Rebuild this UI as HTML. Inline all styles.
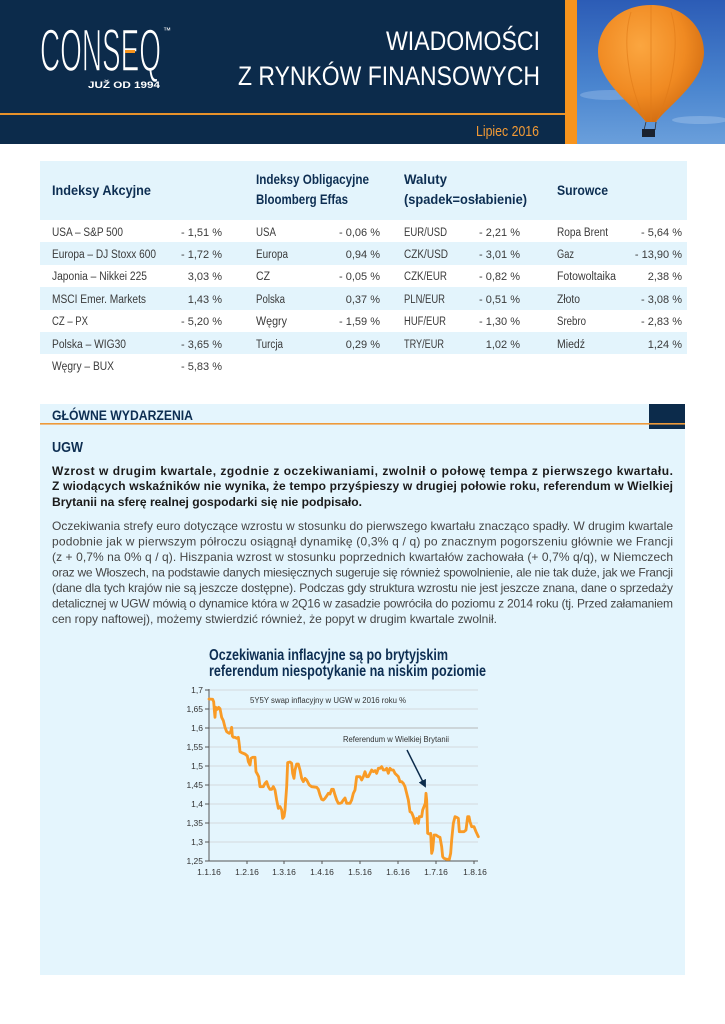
<!DOCTYPE html>
<html><head><meta charset="utf-8">
<style>
html,body{margin:0;padding:0;background:#fff;}
svg{display:block;}
text{font-family:"Liberation Sans","DejaVu Sans",sans-serif;}
</style></head>
<body>
<svg width="725" height="1024" viewBox="0 0 725 1024" xmlns="http://www.w3.org/2000/svg">
<defs>
<linearGradient id="sky" x1="0" y1="0" x2="0" y2="1">
<stop offset="0" stop-color="#2c5cb6"/><stop offset="0.6" stop-color="#4a85cf"/><stop offset="1" stop-color="#6a9fdb"/>
</linearGradient>
<radialGradient id="bal" cx="0.4" cy="0.35" r="0.7">
<stop offset="0" stop-color="#fba640"/><stop offset="0.6" stop-color="#f08a22"/><stop offset="1" stop-color="#cf6a10"/>
</radialGradient>
<marker id="ah" markerWidth="8" markerHeight="8" refX="6" refY="4" orient="auto" markerUnits="userSpaceOnUse">
<path d="M0,0 L8,4 L0,8 Z" fill="#0c2c4c"/>
</marker>
</defs>

<!-- HEADER -->
<rect x="0" y="0" width="565" height="144" fill="#0c2b4b"/>
<rect x="0" y="113" width="565" height="2" fill="#e8922a"/>
<rect x="565" y="0" width="12" height="144" fill="#f7941d"/>
<rect x="577" y="0" width="148" height="144" fill="url(#sky)"/>
<ellipse cx="610" cy="95" rx="30" ry="5" fill="#8fb6e6" opacity="0.5"/>
<ellipse cx="700" cy="120" rx="28" ry="4" fill="#9cc0ea" opacity="0.5"/>
<path d="M651,5 C681,5 704,25 704,52 C704,82 670,104 656,122 L646,122 C632,104 598,82 598,52 C598,25 621,5 651,5 Z" fill="url(#bal)"/>
<path d="M631,12 C622,40 628,85 646,122 M671,12 C680,40 674,85 656,122 M651,5 L651,122" stroke="#e07a18" stroke-width="1" fill="none" opacity="0.6"/>
<line x1="646" y1="122" x2="644" y2="130" stroke="#333" stroke-width="0.8"/>
<line x1="656" y1="122" x2="655" y2="130" stroke="#333" stroke-width="0.8"/>
<rect x="642" y="129" width="13" height="8" fill="#1a2230"/>
<rect x="0" y="144" width="725" height="1" fill="#fff"/>

<text x="40" y="71" font-size="60" fill="#fff" stroke="#0c2b4b" stroke-width="1.6" textLength="121" lengthAdjust="spacingAndGlyphs">CONSEQ</text>
<rect x="125" y="50" width="10" height="3" fill="#f7941d"/>
<text x="163" y="33" font-size="8" fill="#fff">™</text>
<text x="88" y="88" font-size="9" font-weight="bold" fill="#fff" textLength="72" lengthAdjust="spacingAndGlyphs">JUŽ OD 1994</text>

<text x="386" y="50" font-size="27" fill="#fff" textLength="154" lengthAdjust="spacingAndGlyphs">WIADOMOŚCI</text>
<text x="238" y="85" font-size="27" fill="#fff" textLength="302" lengthAdjust="spacingAndGlyphs">Z RYNKÓW FINANSOWYCH</text>
<text x="476" y="136" font-size="15" fill="#f29a35" textLength="63" lengthAdjust="spacingAndGlyphs">Lipiec 2016</text>

<!-- TABLE -->
<rect x="40" y="161" width="647" height="59" fill="#e3f4fc"/>
<rect x="40" y="242" width="647" height="23" fill="#e3f4fc"/>
<rect x="40" y="287" width="647" height="23" fill="#e3f4fc"/>
<rect x="40" y="332" width="647" height="22" fill="#e3f4fc"/>

<g font-weight="bold" fill="#0d2e52" font-size="14">
<text x="52" y="195" textLength="99" lengthAdjust="spacingAndGlyphs">Indeksy Akcyjne</text>
<text x="256" y="184" textLength="113" lengthAdjust="spacingAndGlyphs">Indeksy Obligacyjne</text>
<text x="256" y="204" textLength="92" lengthAdjust="spacingAndGlyphs">Bloomberg Effas</text>
<text x="404" y="184" textLength="43" lengthAdjust="spacingAndGlyphs">Waluty</text>
<text x="404" y="204" textLength="123" lengthAdjust="spacingAndGlyphs">(spadek=osłabienie)</text>
<text x="557" y="195" textLength="51" lengthAdjust="spacingAndGlyphs">Surowce</text>
</g>

<g fill="#3a3a3a" font-size="11.5">
<text x="52" y="236" textLength="71" lengthAdjust="spacingAndGlyphs">USA – S&amp;P 500</text>
<text x="52" y="258" textLength="104" lengthAdjust="spacingAndGlyphs">Europa – DJ Stoxx 600</text>
<text x="52" y="280" textLength="95" lengthAdjust="spacingAndGlyphs">Japonia – Nikkei 225</text>
<text x="52" y="303" textLength="94" lengthAdjust="spacingAndGlyphs">MSCI Emer. Markets</text>
<text x="52" y="325" textLength="36" lengthAdjust="spacingAndGlyphs">CZ – PX</text>
<text x="52" y="348" textLength="74" lengthAdjust="spacingAndGlyphs">Polska – WIG30</text>
<text x="52" y="370" textLength="62" lengthAdjust="spacingAndGlyphs">Węgry – BUX</text>

<text x="256" y="236" textLength="20" lengthAdjust="spacingAndGlyphs">USA</text>
<text x="256" y="258" textLength="32" lengthAdjust="spacingAndGlyphs">Europa</text>
<text x="256" y="280" textLength="14" lengthAdjust="spacingAndGlyphs">CZ</text>
<text x="256" y="303" textLength="29" lengthAdjust="spacingAndGlyphs">Polska</text>
<text x="256" y="325" textLength="31" lengthAdjust="spacingAndGlyphs">Węgry</text>
<text x="256" y="348" textLength="27" lengthAdjust="spacingAndGlyphs">Turcja</text>

<text x="404" y="236" textLength="43" lengthAdjust="spacingAndGlyphs">EUR/USD</text>
<text x="404" y="258" textLength="44" lengthAdjust="spacingAndGlyphs">CZK/USD</text>
<text x="404" y="280" textLength="43" lengthAdjust="spacingAndGlyphs">CZK/EUR</text>
<text x="404" y="303" textLength="41" lengthAdjust="spacingAndGlyphs">PLN/EUR</text>
<text x="404" y="325" textLength="42" lengthAdjust="spacingAndGlyphs">HUF/EUR</text>
<text x="404" y="348" textLength="40" lengthAdjust="spacingAndGlyphs">TRY/EUR</text>

<text x="557" y="236" textLength="51" lengthAdjust="spacingAndGlyphs">Ropa Brent</text>
<text x="557" y="258" textLength="17" lengthAdjust="spacingAndGlyphs">Gaz</text>
<text x="557" y="280" textLength="59" lengthAdjust="spacingAndGlyphs">Fotowoltaika</text>
<text x="557" y="303" textLength="23" lengthAdjust="spacingAndGlyphs">Złoto</text>
<text x="557" y="325" textLength="29" lengthAdjust="spacingAndGlyphs">Srebro</text>
<text x="557" y="348" textLength="28" lengthAdjust="spacingAndGlyphs">Miedź</text>
</g>
<g fill="#3a3a3a" font-size="11" text-anchor="end">
<text x="222" y="236">- 1,51 %</text>
<text x="222" y="258">- 1,72 %</text>
<text x="222" y="280">3,03 %</text>
<text x="222" y="303">1,43 %</text>
<text x="222" y="325">- 5,20 %</text>
<text x="222" y="348">- 3,65 %</text>
<text x="222" y="370">- 5,83 %</text>

<text x="380" y="236">- 0,06 %</text>
<text x="380" y="258">0,94 %</text>
<text x="380" y="280">- 0,05 %</text>
<text x="380" y="303">0,37 %</text>
<text x="380" y="325">- 1,59 %</text>
<text x="380" y="348">0,29 %</text>

<text x="520" y="236">- 2,21 %</text>
<text x="520" y="258">- 3,01 %</text>
<text x="520" y="280">- 0,82 %</text>
<text x="520" y="303">- 0,51 %</text>
<text x="520" y="325">- 1,30 %</text>
<text x="520" y="348">1,02 %</text>

<text x="682" y="236">- 5,64 %</text>
<text x="682" y="258">- 13,90 %</text>
<text x="682" y="280">2,38 %</text>
<text x="682" y="303">- 3,08 %</text>
<text x="682" y="325">- 2,83 %</text>
<text x="682" y="348">1,24 %</text>
</g>

<!-- MAIN SECTION -->
<rect x="40" y="404" width="645" height="571" fill="#e4f5fd"/>
<rect x="649" y="404" width="36" height="25" fill="#0c2b4b"/>
<rect x="40" y="423" width="645" height="1.6" fill="#ee9a3a"/>
<text x="52" y="420" font-size="13.5" font-weight="bold" fill="#0d2e52" textLength="141" lengthAdjust="spacingAndGlyphs">GŁÓWNE WYDARZENIA</text>
<text x="52" y="452" font-size="15" font-weight="bold" fill="#0d2e52" textLength="31" lengthAdjust="spacingAndGlyphs">UGW</text>

<g font-size="12" font-weight="bold" fill="#1a1a1a">
<text x="52" y="475" textLength="621" lengthAdjust="spacing">Wzrost w drugim kwartale, zgodnie z oczekiwaniami, zwolnił o połowę tempa z pierwszego kwartału.</text>
<text x="52" y="490" textLength="621" lengthAdjust="spacing">Z wiodących wskaźników nie wynika, że tempo przyśpieszy w drugiej połowie roku, referendum w Wielkiej</text>
<text x="52" y="506" textLength="310" lengthAdjust="spacingAndGlyphs">Brytanii na sferę realnej gospodarki się nie podpisało.</text>
</g>
<g font-size="12" fill="#454545">
<text x="52" y="530" textLength="621" lengthAdjust="spacing">Oczekiwania strefy euro dotyczące wzrostu w stosunku do pierwszego kwartału znacząco spadły. W drugim kwartale</text>
<text x="52" y="545.5" textLength="621" lengthAdjust="spacing">podobnie jak w pierwszym półroczu osiągnął dynamikę (0,3% q / q) po znacznym pogorszeniu głównie we Francji</text>
<text x="52" y="561" textLength="621" lengthAdjust="spacing">(z + 0,7% na 0% q / q). Hiszpania wzrost w stosunku poprzednich kwartałów zachowała (+ 0,7% q/q), w Niemczech</text>
<text x="52" y="576.5" textLength="621" lengthAdjust="spacing">oraz we Włoszech, na podstawie danych miesięcznych sugeruje się również spowolnienie, ale nie tak duże, jak we Francji</text>
<text x="52" y="592" textLength="621" lengthAdjust="spacing">(dane dla tych krajów nie są jeszcze dostępne). Podczas gdy struktura wzrostu nie jest jeszcze znana, dane o sprzedaży</text>
<text x="52" y="607.5" textLength="621" lengthAdjust="spacing">detalicznej w UGW mówią o dynamice która w 2Q16 w zasadzie powróciła do poziomu z 2014 roku (tj. Przed załamaniem</text>
<text x="52" y="623" textLength="445" lengthAdjust="spacing">cen ropy naftowej), możemy stwierdzić również, że popyt  w drugim kwartale zwolnił.</text>
</g>

<!-- CHART -->
<g font-size="15.5" font-weight="bold" fill="#0d2e52">
<text x="209" y="660" textLength="239" lengthAdjust="spacingAndGlyphs">Oczekiwania inflacyjne są po brytyjskim</text>
<text x="209" y="676" textLength="277" lengthAdjust="spacingAndGlyphs">referendum niespotykanie na niskim poziomie</text>
</g>

<g stroke="#d3d9dd" stroke-width="1">
<line x1="209" y1="690" x2="478" y2="690"/>
<line x1="209" y1="709" x2="478" y2="709"/>
<line x1="209" y1="747" x2="478" y2="747"/>
<line x1="209" y1="766" x2="478" y2="766"/>
<line x1="209" y1="785" x2="478" y2="785"/>
<line x1="209" y1="804" x2="478" y2="804"/>
<line x1="209" y1="823" x2="478" y2="823"/>
<line x1="209" y1="842" x2="478" y2="842"/>
</g>
<line x1="209" y1="728" x2="478" y2="728" stroke="#c5cbcf" stroke-width="1.6"/>

<g stroke="#555" stroke-width="1">
<line x1="209" y1="689" x2="209" y2="861"/>
<line x1="209" y1="861" x2="478" y2="861"/>
<line x1="205" y1="690" x2="209" y2="690"/>
<line x1="205" y1="709" x2="209" y2="709"/>
<line x1="205" y1="728" x2="209" y2="728"/>
<line x1="205" y1="747" x2="209" y2="747"/>
<line x1="205" y1="766" x2="209" y2="766"/>
<line x1="205" y1="785" x2="209" y2="785"/>
<line x1="205" y1="804" x2="209" y2="804"/>
<line x1="205" y1="823" x2="209" y2="823"/>
<line x1="205" y1="842" x2="209" y2="842"/>
<line x1="205" y1="861" x2="209" y2="861"/>
<line x1="247" y1="861" x2="247" y2="864"/>
<line x1="284" y1="861" x2="284" y2="864"/>
<line x1="322" y1="861" x2="322" y2="864"/>
<line x1="360" y1="861" x2="360" y2="864"/>
<line x1="398" y1="861" x2="398" y2="864"/>
<line x1="436" y1="861" x2="436" y2="864"/>
<line x1="474" y1="861" x2="474" y2="864"/>
</g>

<g font-size="8.5" fill="#333" text-anchor="end">
<text x="203" y="693">1,7</text>
<text x="203" y="712">1,65</text>
<text x="203" y="731">1,6</text>
<text x="203" y="750">1,55</text>
<text x="203" y="769">1,5</text>
<text x="203" y="788">1,45</text>
<text x="203" y="807">1,4</text>
<text x="203" y="826">1,35</text>
<text x="203" y="845">1,3</text>
<text x="203" y="864">1,25</text>
</g>
<g font-size="8.5" fill="#333" text-anchor="middle">
<text x="209" y="875">1.1.16</text>
<text x="247" y="875">1.2.16</text>
<text x="284" y="875">1.3.16</text>
<text x="322" y="875">1.4.16</text>
<text x="360" y="875">1.5.16</text>
<text x="398" y="875">1.6.16</text>
<text x="436" y="875">1.7.16</text>
<text x="475" y="875">1.8.16</text>
</g>

<text x="250" y="703" font-size="8.5" fill="#333" textLength="156" lengthAdjust="spacingAndGlyphs">5Y5Y swap inflacyjny w UGW w 2016 roku %</text>
<text x="343" y="742" font-size="8.5" fill="#333" textLength="106" lengthAdjust="spacingAndGlyphs">Referendum w Wielkiej Brytanii</text>

<g transform="translate(170,630) scale(0.33333)">
<polyline fill="none" stroke="#f99b26" stroke-width="8.5" stroke-linejoin="round" stroke-linecap="round" points="117,207 128,208 131,215 133,240 135,262 137,232 142,238 146,232 150,236 155,262 160,272 165,292 170,305 174,308 178,310 182,305 185,292 187,318 190,322 195,322 200,325 205,322 208,345 210,365 215,368 225,372 232,378 235,395 240,405 243,385 248,382 255,382 258,425 262,432 266,440 270,470 280,470 285,460 290,455 295,470 300,478 305,478 310,470 315,480 320,510 325,535 330,530 335,540 338,565 342,560 345,540 350,470 353,398 360,396 365,400 368,430 372,445 375,420 380,402 385,402 390,420 395,445 400,455 405,445 410,450 418,465 425,470 440,472 445,478 450,495 455,508 460,510 465,505 470,498 475,490 480,492 485,478 490,478 495,495 500,510 505,520 510,520 515,518 520,510 525,504 530,520 535,520 540,520 545,510 550,490 555,480 560,440 565,440 570,440 575,450 580,440 585,425 590,440 595,440 600,430 605,420 610,425 615,422 620,430 625,415 630,415 635,410 640,420 645,420 650,415 655,430 660,415 665,420 670,420 675,430 680,435 685,440 690,455 695,455 700,460 705,470 710,490 715,510 720,545 725,548 730,560 735,580 740,565 745,580 748,560 755,560 758,540 762,530 766,520 768,490 770,510 773,610 778,612 782,610 785,670 788,660 792,615 798,615 805,620 810,622 815,650 818,680 822,685 830,688 838,688 842,670 845,630 850,580 855,560 860,562 865,565 868,605 872,605 877,605 882,605 888,600 893,560 897,560 900,575 905,590 912,590 918,605 925,620"/>
</g>

<line x1="407" y1="750" x2="425" y2="786" stroke="#0c2c4c" stroke-width="1.5" marker-end="url(#ah)"/>
</svg>
</body></html>
